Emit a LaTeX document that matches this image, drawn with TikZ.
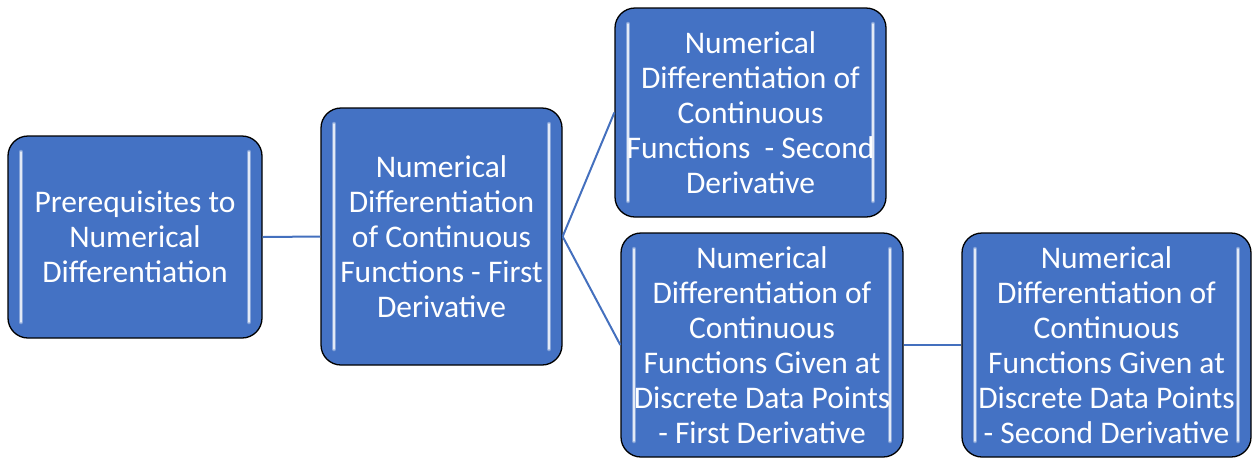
\documentclass[tikz,border=0pt]{standalone}
\usepackage{fontspec}
\setmainfont{Carlito}
\usetikzlibrary{calc}
\definecolor{boxblue}{HTML}{4472C4}
\definecolor{linkblue}{HTML}{4470BE}
\begin{document}
\begin{tikzpicture}[x=1pt,y=-1pt,
  hl/.style={line cap=round},
  box/.style={draw=black, line width=1.3pt, fill=boxblue, rounded corners=20pt,
    text=white, align=center, inner sep=0pt,
    font=\fontsize{31.5}{35}\selectfont,
    path picture={
      \foreach \w/\c in {4.5pt/white!35!boxblue, 1.6pt/white!85!boxblue}{
        \draw[hl, line width=\w, draw=\c]
          ([shift={(13,16)}]path picture bounding box.north west) --
          ([shift={(13,-16)}]path picture bounding box.south west);
        \draw[hl, line width=\w, draw=\c]
          ([shift={(-13,16)}]path picture bounding box.north east) --
          ([shift={(-13,-16)}]path picture bounding box.south east);
      }
    }},
  link/.style={draw=linkblue, line width=2pt}]
\useasboundingbox (0,0) rectangle (1252,459);

% the five topic boxes
\node[box, minimum width=254pt, minimum height=202pt] (pre) at (135,237)
  {Prerequisites to\\Numerical\\Differentiation};
\node[box, minimum width=241pt, minimum height=257pt] (first) at (441.5,236.5)
  {Numerical\\Differentiation\\of Continuous\\Functions - First\\Derivative};
\node[box, minimum width=271pt, minimum height=209pt] (second) at (750.5,112.5)
  {Numerical\\Differentiation of\\Continuous\\Functions\ \ - Second\\Derivative};
\node[box, minimum width=282pt, minimum height=224pt] (dfirst) at (762,345)
  {Numerical\\Differentiation of\\Continuous\\Functions Given at\\Discrete Data Points\\- First Derivative};
\node[box, minimum width=289pt, minimum height=224pt] (dsecond) at (1106.5,345)
  {Numerical\\Differentiation of\\Continuous\\Functions Given at\\Discrete Data Points\\- Second Derivative};

% connectors
\draw[link] (pre.east) -- (first.west);
\draw[link] (first.east) -- (second.west);
\draw[link] (first.east) -- (dfirst.west);
\draw[link] (dfirst.east) -- (dsecond.west);
\end{tikzpicture}
\end{document}
